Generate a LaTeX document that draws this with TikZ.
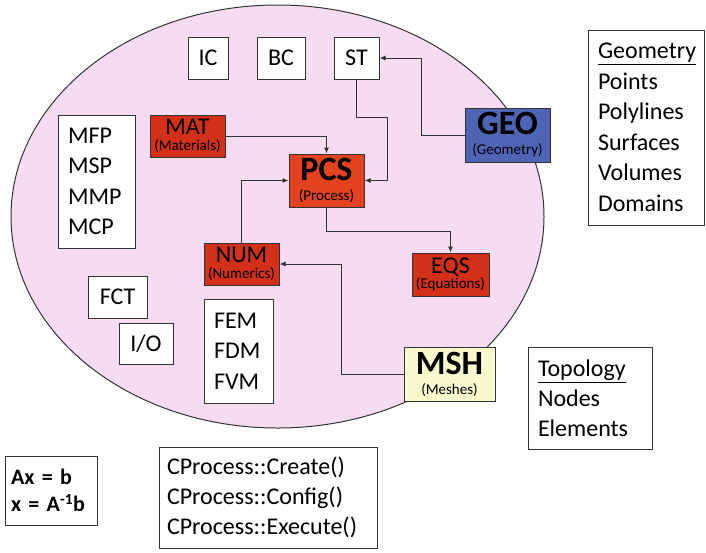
\documentclass[tikz,border=0pt]{standalone}
\usepackage{fontspec}
\setmainfont{Carlito}
\usetikzlibrary{arrows.meta}
\definecolor{domainpink}{HTML}{F5DCF2}
\definecolor{modred}{HTML}{D3301A}
\definecolor{pcsred}{HTML}{E2421F}
\definecolor{geoblue}{HTML}{5064B6}
\definecolor{mshyellow}{HTML}{F8F8CC}
\tikzset{
  box/.style={draw=black!80, line width=1pt, fill=white, inner sep=0pt,
    font=\fontsize{24}{29}\selectfont},
  modbox/.style={box, align=center, font=\fontsize{24}{15.5}\selectfont},
  bigmodbox/.style={box, align=center, font=\fontsize{34}{20}\selectfont},
  listbox/.style={box, align=left, inner xsep=10pt},
  link/.style={draw=black!80, line width=1pt, -{Latex[length=6pt,width=5pt]}}
}
\newcommand{\modname}[2]{#1\\{\fontsize{15}{15}\selectfont #2}}
\newcommand{\bigmodname}[2]{\textbf{#1}\\{\fontsize{15}{15}\selectfont #2}}
\begin{document}
\begin{tikzpicture}[x=1pt, y=-1pt]
    \useasboundingbox (0,0) rectangle (706,552);
    % process domain
    \draw[black!80, line width=1pt, fill=domainpink] (277.5,216.5) ellipse [x radius=266.5, y radius=211.5];
    % conditions
    \node [box, minimum width=40, minimum height=42] (ic) at (208,58) {IC};
    \node [box, minimum width=48, minimum height=42] (bc) at (281,58) {BC};
    \node [box, minimum width=45, minimum height=42] (st) at (356.5,58) {ST};
    % modules
    \node [modbox, fill=modred, minimum width=75, minimum height=42] (mat) at (187.5,136) {\modname{MAT}{(Materials)}};
    \node [bigmodbox, fill=pcsred, minimum width=75, minimum height=53] (pcs) at (326.5,180.5) {\bigmodname{PCS}{(Process)}};
    \node [bigmodbox, fill=geoblue, minimum width=85, minimum height=54] (geo) at (507.5,135) {\bigmodname{GEO}{(Geometry)}};
    \node [modbox, fill=modred, minimum width=75, minimum height=42] (num) at (241.5,264) {\modname{NUM}{(Numerics)}};
    \node [modbox, fill=modred, minimum width=77, minimum height=43] (eqs) at (450.5,274.5) {\modname{EQS}{(Equations)}};
    \node [bigmodbox, fill=mshyellow, minimum width=91, minimum height=54] (msh) at (449.5,374) {\bigmodname{MSH}{(Meshes)}};
    % lists
    \node [listbox, text width=57, minimum height=133, font=\fontsize{24}{30.5}\selectfont] (mfp) at (96.5,181.5) {MFP\\MSP\\MMP\\MCP};
    \node [box, minimum width=59, minimum height=42] (fct) at (117.5,297) {FCT};
    \node [box, minimum width=54, minimum height=41] (io) at (146,343.5) {I/O};
    \node [listbox, text width=49, minimum height=104, font=\fontsize{24}{30.5}\selectfont] (fem) at (238.5,351) {FEM\\FDM\\FVM};
    \node [listbox, text width=96, minimum height=195, font=\fontsize{24}{30.5}\selectfont] (geom) at (646,127.5) {\underline{Geometry}\\Points\\Polylines\\Surfaces\\Volumes\\Domains};
    \node [listbox, text width=104, minimum height=102, font=\fontsize{24}{30}\selectfont] (topo) at (590,398) {\underline{Topology}\\Nodes\\Elements};
    \node [listbox, inner xsep=6pt, text width=80, minimum height=69, font=\fontsize{22}{27}\bfseries\selectfont] (eqn) at (51,490.5) {Ax = b\\x = A\textsuperscript{-1}b};
    \node [listbox, inner xsep=8pt, text width=202, minimum height=101, font=\fontsize{24}{30}\selectfont] (api) at (268,497.5) {CProcess::Create()\\CProcess::Config()\\CProcess::Execute()};
    % connections
    \draw[link] (geo.west) -- ++(-43,0) |- (st.east);
    \draw[link] (st.south) -- ++(0,38) -- ++(30.5,0) |- (pcs.east);
    \draw[link] (mat.east) -| (pcs.north);
    \draw[link] (num.north) |- (pcs.west);
    \draw[link] (pcs.south) -- ++(0,24) -| (eqs.north);
    \draw[link] (msh.west) -- ++(-62,0) |- (num.east);
\end{tikzpicture}
\end{document}
